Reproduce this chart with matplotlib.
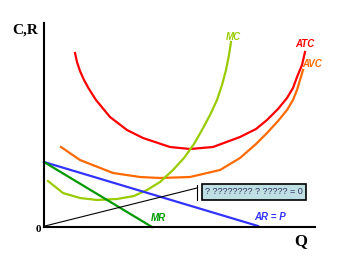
import matplotlib
matplotlib.use("Agg")
import matplotlib.pyplot as plt

# curve points (Q, cost/revenue)
atc_q = [31, 33, 36, 40, 45, 52, 66, 83, 99, 126, 146, 169, 196, 212, 223, 234, 243, 249, 253, 258, 261]
atc_c = [174, 165, 156, 147, 138, 127, 110, 97, 89, 80, 78, 80, 90, 98, 107, 118, 129, 139, 150, 162, 175]

avc_q = [17, 36, 69, 96, 116, 146, 176, 196, 212, 223, 234, 243, 249, 253, 256, 259]
avc_c = [80, 67, 54, 50, 49, 50, 57, 69, 83, 94, 106, 117, 127, 137, 147, 157]

mc_q = [4, 19, 36, 53, 73, 90, 103, 116, 129, 140, 150, 158, 166, 173, 178, 182, 185, 187]
mc_c = [46, 34, 29, 27, 28, 31, 37, 45, 57, 69, 83, 97, 112, 127, 142, 157, 172, 185]

ar_q = [0, 214]
ar_c = [65, 1]

mr_q = [0, 108]
mr_c = [65, 0]

tr_q = [1, 153]
tr_c = [1, 39]

box_text = "? ???????? ? ????? = 0"

W, H = 345, 259
fig = plt.figure(figsize=(W / 100, H / 100), dpi=100)
ax = fig.add_axes([44 / W, (H - 227) / H, (315 - 44) / W, (227 - 23) / H])
ax.set_xlim(0, 271)
ax.set_ylim(0, 204)
for s in ["top", "right"]:
    ax.spines[s].set_visible(False)
for s in ["left", "bottom"]:
    ax.spines[s].set_linewidth(1.5)
ax.set_xticks([])
ax.set_yticks([])

ax.plot(atc_q, atc_c, color="#ff0000", lw=1.6, clip_on=False)
ax.plot(avc_q, avc_c, color="#ff6a00", lw=1.6, clip_on=False)
ax.plot(mc_q, mc_c, color="#99cc00", lw=1.6, clip_on=False)
ax.plot(ar_q, ar_c, color="#3333ff", lw=1.6, clip_on=False)
ax.plot(mr_q, mr_c, color="#009900", lw=1.6, clip_on=False)
ax.plot(tr_q, tr_c, color="black", lw=0.8, clip_on=False)
ax.plot([153, 153], [27, 42], color="black", lw=0.8, clip_on=False)

lab = dict(fontfamily="Liberation Sans", fontsize=7, fontweight="bold", style="italic")
ax.text(189, 190, "MC", color="#99cc00", ha="center", va="center", **lab)
ax.text(261, 183, "ATC", color="#ff0000", ha="center", va="center", **lab)
ax.text(268, 163, "AVC", color="#ff6a00", ha="center", va="center", **lab)
ax.text(114, 9, "MR", color="#009900", ha="center", va="center", **lab)
ax.text(226, 10, "AR = P", color="#3333ff", ha="center", va="center", **lab)

ax.text(210, 35, box_text, ha="center", va="center", fontsize=6.5,
        fontfamily="Liberation Sans", color="#333366",
        bbox=dict(boxstyle="square,pad=0.35", fc="#bfe0e3", ec="black", lw=1.2))

serif = dict(fontfamily="Liberation Serif", fontweight="bold", color="black")
fig.text(12 / W, 1 - 30 / H, "C,R", fontsize=11, va="center", ha="left", **serif)
fig.text(38 / W, 1 - 230 / H, "0", fontsize=8, va="center", ha="center", **serif)
fig.text(301 / W, 1 - 241 / H, "Q", fontsize=12, va="center", ha="center", **serif)

fig.savefig("out.png", dpi=100)
